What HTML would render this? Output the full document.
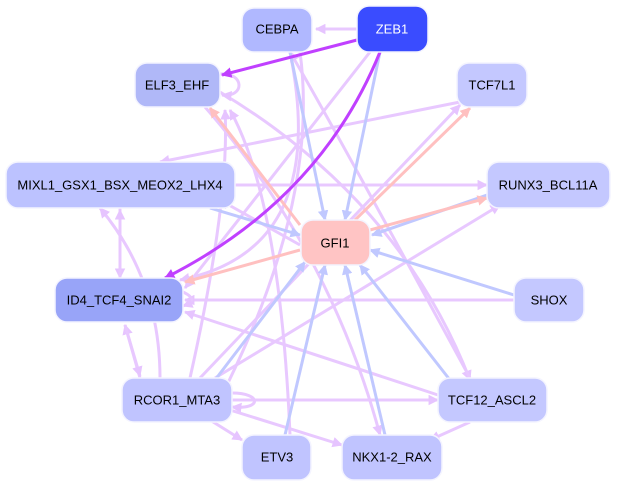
<!DOCTYPE html><html><head><meta charset="utf-8"><style>body{margin:0;background:#fff}svg{display:block}text{font-family:"Liberation Sans",sans-serif;font-size:13px;text-anchor:middle;dominant-baseline:central}</style></head><body>
<svg width="617" height="489" viewBox="0 0 617 489">
<defs>
<marker id="a" viewBox="0 0 10 10" refX="9" refY="5" markerWidth="3.5" markerHeight="3.5" orient="auto"><path d="M0,0L10,5L0,10z" fill="#e6c4ff"/></marker>
<marker id="b" viewBox="0 0 10 10" refX="9" refY="5" markerWidth="3.5" markerHeight="3.5" orient="auto"><path d="M0,0L10,5L0,10z" fill="#c0c8ff"/></marker>
<marker id="c" viewBox="0 0 10 10" refX="9" refY="5" markerWidth="3.5" markerHeight="3.5" orient="auto"><path d="M0,0L10,5L0,10z" fill="#c040ff"/></marker>
<marker id="d" viewBox="0 0 10 10" refX="9" refY="5" markerWidth="3.5" markerHeight="3.5" orient="auto"><path d="M0,0L10,5L0,10z" fill="#ffc0c0"/></marker>
</defs>
<g fill="none" stroke-width="3">
<g stroke="#e8c8ff" marker-end="url(#a)">
<path d="M357,29L316,29"/>
<path d="M300,52Q320,200 222,395"/>
<path d="M290,52Q330,250 180,280"/>
<path d="M220,92Q400,200 470,380"/>
<path d="M205,107Q330,250 380,435"/>
<path d="M220,74C245,72 245,98 222,95"/>
<path d="M235,185L487,185"/>
<path d="M120,208L120,278"/>
<path d="M120,278L120,210"/>
<path d="M470,100L160,162"/>
<path d="M514,300L185,300"/>
<path d="M438,395L185,312"/>
<path d="M200,378L460,105"/>
<path d="M190,378Q230,200 225,110"/>
<path d="M215,378L500,205"/>
<path d="M232,400L438,400"/>
<path d="M232,393C262,393 262,410 232,407"/>
<path d="M210,420L242,440"/>
<path d="M230,410L342,445"/>
<path d="M140,378L125,325"/>
<path d="M125,325L140,376"/>
<path d="M160,378Q160,280 100,208"/>
<path d="M290,435Q280,200 230,110"/>
<path d="M470,378Q330,120 290,52"/>
<path d="M370,52L185,288"/>
<path d="M470,422L430,440"/>
<path d="M300,245L220,200"/>
<path d="M183,292Q200,300 183,306"/>
</g>
<g stroke="#c0c8ff" marker-end="url(#b)">
<path d="M380,52L345,220"/>
<path d="M290,52L325,220"/>
<path d="M210,208L300,235"/>
<path d="M514,295L370,250"/>
<path d="M215,380L305,262"/>
<path d="M285,435L325,265"/>
<path d="M385,435L345,265"/>
<path d="M450,380L360,265"/>
<path d="M487,195L372,235"/>
</g>
<g stroke="#ffc0c0" marker-end="url(#d)">
<path d="M300,250L185,282"/>
<path d="M355,220L470,108"/>
<path d="M370,230L487,198"/>
<path d="M300,225L210,108"/>
</g>
<g stroke="#c040ff" marker-end="url(#c)">
<path d="M357,40L222,75"/>
<path d="M380,52Q320,200 165,278"/>
</g>
</g>
<g stroke="#f4f4ff" stroke-width="1.5">
<rect x="242" y="8" width="70" height="44" rx="12" fill="#b0b8ff"/>
<rect x="357" y="6" width="71" height="46" rx="12" fill="#3a4cff"/>
<rect x="135" y="63" width="85" height="44" rx="12" fill="#b0b8f8"/>
<rect x="457" y="63" width="70" height="44" rx="12" fill="#c4c8ff"/>
<rect x="6" y="162" width="229" height="46" rx="12" fill="#bcc2ff"/>
<rect x="487" y="162" width="123" height="46" rx="12" fill="#c4c8ff"/>
<rect x="301" y="220" width="69" height="45" rx="12" fill="#ffc4c4"/>
<rect x="55" y="278" width="128" height="44" rx="12" fill="#98a4f8"/>
<rect x="514" y="278" width="70" height="44" rx="12" fill="#c4c8ff"/>
<rect x="122" y="378" width="110" height="44" rx="12" fill="#c0c4ff"/>
<rect x="438" y="378" width="109" height="44" rx="12" fill="#c4c8ff"/>
<rect x="242" y="435" width="69" height="45" rx="12" fill="#c0c4ff"/>
<rect x="342" y="435" width="100" height="45" rx="12" fill="#c0c4ff"/>
</g>
<text x="277" y="29">CEBPA</text>
<text x="392" y="29" fill="#fff">ZEB1</text>
<text x="177" y="85">ELF3_EHF</text>
<text x="492" y="85">TCF7L1</text>
<text x="120" y="185">MIXL1_GSX1_BSX_MEOX2_LHX4</text>
<text x="548" y="185">RUNX3_BCL11A</text>
<text x="335" y="243">GFI1</text>
<text x="119" y="300">ID4_TCF4_SNAI2</text>
<text x="549" y="300">SHOX</text>
<text x="177" y="400">RCOR1_MTA3</text>
<text x="492" y="400">TCF12_ASCL2</text>
<text x="277" y="457">ETV3</text>
<text x="392" y="457">NKX1-2_RAX</text>
</svg></body></html>
